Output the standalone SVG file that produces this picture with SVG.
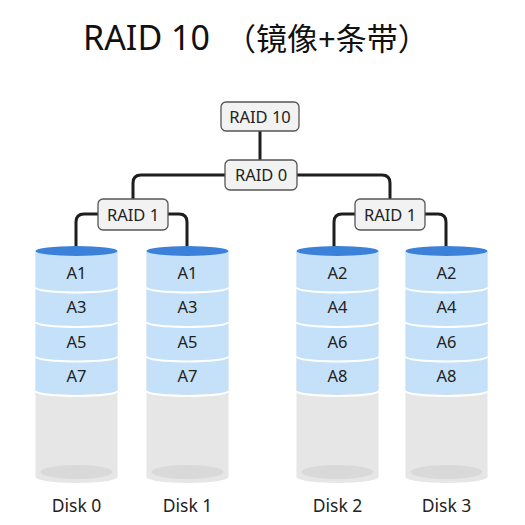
<svg xmlns="http://www.w3.org/2000/svg" width="525" height="525" viewBox="0 0 525 525">
<defs>
<style>
.t{font-family:"Noto Sans","Open Sans","Noto Sans CJK SC",sans-serif;fill:#222;text-anchor:middle}
.title{font-size:31px;font-family:"Noto Sans","Noto Sans CJK SC",sans-serif;fill:#111}
.box{fill:#f2f2f2;stroke:#555;stroke-width:1.3}
.lbl{font-size:16.5px}
.seg{font-size:16.5px}
.disk{font-size:17.5px}
.wire{fill:none;stroke:#1e1e1e;stroke-width:3;stroke-linecap:round;stroke-linejoin:round}
.body{fill:#e6e6e6}
.floor{fill:#d9d9d9}
.blue{fill:#c5e1fa}
.sep{fill:none;stroke:#fff;stroke-width:2}
.top{fill:#3b80d9}
</style>
<g id="cyl">
<rect x="-41" y="251" width="82" height="226" class="body"/>
<ellipse cx="0" cy="477" rx="41" ry="6" class="body"/>
<ellipse cx="0" cy="472" rx="36" ry="7" class="floor"/>
<rect x="-41" y="251" width="82" height="139" class="blue"/>
<ellipse cx="0" cy="390" rx="41" ry="5" class="blue"/>
<path d="M-41,287.5 A41 5 0 0 0 41,287.5 M-41,322 A41 5 0 0 0 41,322 M-41,356.5 A41 5 0 0 0 41,356.5 M-41,391 A41 5 0 0 0 41,391" class="sep"/>
<ellipse cx="0" cy="251" rx="41" ry="5" class="top"/>
</g>
</defs>
<rect width="525" height="525" fill="#fff"/>
<text x="83" y="50" class="title"><tspan font-size="34">RAID 10</tspan><tspan x="225">（镜像+条带）</tspan></text>

<g id="connectors">
<path d="M260,131 V160" class="wire"/>
<path d="M225,175 H141 Q133,175 133,183 V199" class="wire"/>
<path d="M297,175 H382 Q390,175 390,183 V199" class="wire"/>
<path d="M98,214 H84 Q76,214 76,222 V250" class="wire"/>
<path d="M168,214 H179 Q187,214 187,222 V250" class="wire"/>
<path d="M355,214 H342 Q334,214 334,222 V250" class="wire"/>
<path d="M425,214 H438 Q446,214 446,222 V250" class="wire"/>
</g>

<g id="raid10">
<rect x="221" y="102" width="78" height="29" rx="5" class="box"/>
<text x="260" y="122.5" class="t lbl">RAID 10</text>
</g>
<g id="raid0">
<rect x="225" y="160" width="72" height="30" rx="5" class="box"/>
<text x="261" y="181" class="t lbl">RAID 0</text>
</g>
<g id="raid1-left">
<rect x="98" y="199" width="70" height="31" rx="5" class="box"/>
<text x="133" y="220.5" class="t lbl">RAID 1</text>
</g>
<g id="raid1-right">
<rect x="355" y="199" width="70" height="31" rx="5" class="box"/>
<text x="390" y="220.5" class="t lbl">RAID 1</text>
</g>

<g id="disk0">
<use href="#cyl" x="76.5"/>
<text x="76.5" y="278.5" class="t seg">A1</text>
<text x="76.5" y="313" class="t seg">A3</text>
<text x="76.5" y="347.5" class="t seg">A5</text>
<text x="76.5" y="382" class="t seg">A7</text>
<text x="76.5" y="512" class="t disk">Disk 0</text>
</g>
<g id="disk1">
<use href="#cyl" x="187.5"/>
<text x="187.5" y="278.5" class="t seg">A1</text>
<text x="187.5" y="313" class="t seg">A3</text>
<text x="187.5" y="347.5" class="t seg">A5</text>
<text x="187.5" y="382" class="t seg">A7</text>
<text x="187.5" y="512" class="t disk">Disk 1</text>
</g>
<g id="disk2">
<use href="#cyl" x="337.5"/>
<text x="337.5" y="278.5" class="t seg">A2</text>
<text x="337.5" y="313" class="t seg">A4</text>
<text x="337.5" y="347.5" class="t seg">A6</text>
<text x="337.5" y="382" class="t seg">A8</text>
<text x="337.5" y="512" class="t disk">Disk 2</text>
</g>
<g id="disk3">
<use href="#cyl" x="446.5"/>
<text x="446.5" y="278.5" class="t seg">A2</text>
<text x="446.5" y="313" class="t seg">A4</text>
<text x="446.5" y="347.5" class="t seg">A6</text>
<text x="446.5" y="382" class="t seg">A8</text>
<text x="446.5" y="512" class="t disk">Disk 3</text>
</g>
</svg>
